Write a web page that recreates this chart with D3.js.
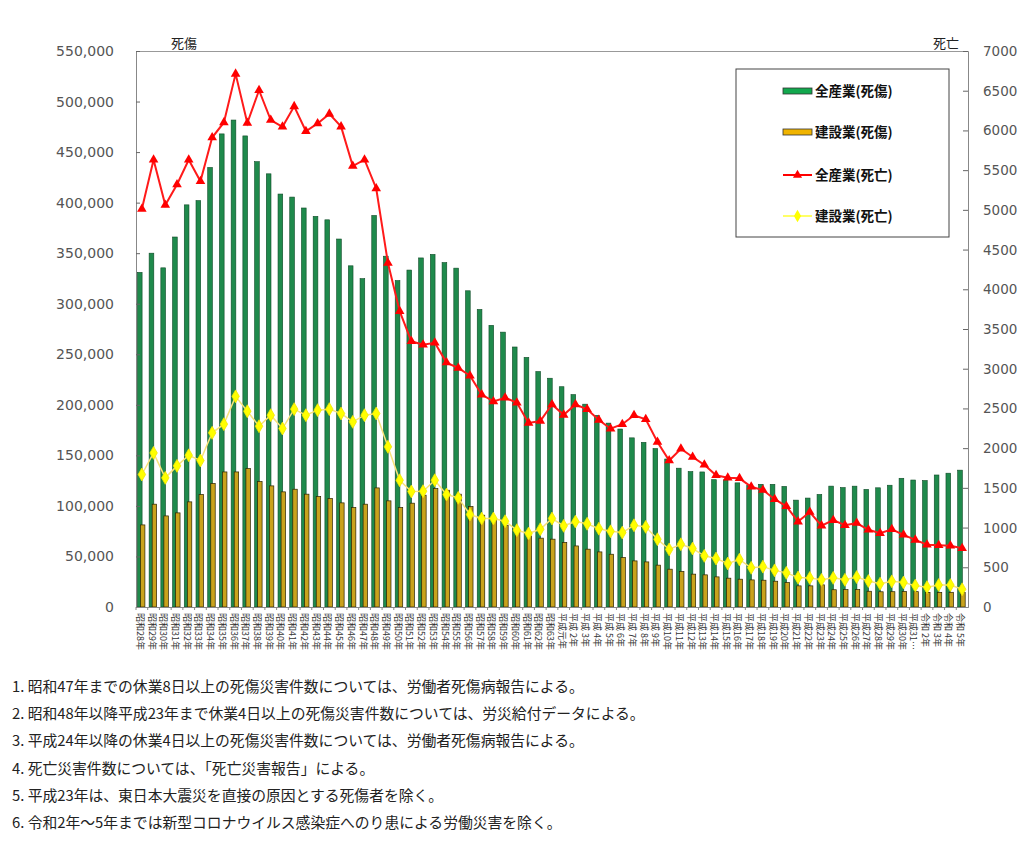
<!DOCTYPE html>
<html lang="ja">
<head>
<meta charset="utf-8">
<style>
  body { margin: 0; background: #fff; }
  #chart text { font-family: "Noto Sans CJK JP", "Noto Sans", sans-serif; }
  #chart .num { font-family: "DejaVu Sans", sans-serif; }
</style>
</head>
<body>
<div id="chart"></div>
<script src="https://cdn.jsdelivr.net/npm/d3@7"></script>
<script>

// x categories (昭和28年 .. 令和5年)
var years = [
  "昭和28年","昭和29年","昭和30年","昭和31年","昭和32年","昭和33年","昭和34年","昭和35年",
  "昭和36年","昭和37年","昭和38年","昭和39年","昭和40年","昭和41年","昭和42年","昭和43年",
  "昭和44年","昭和45年","昭和46年","昭和47年","昭和48年","昭和49年","昭和50年","昭和51年",
  "昭和52年","昭和53年","昭和54年","昭和55年","昭和56年","昭和57年","昭和58年","昭和59年",
  "昭和60年","昭和61年","昭和62年","昭和63年","平成元年","平成 2年","平成 3年","平成 4年",
  "平成 5年","平成 6年","平成 7年","平成 8年","平成 9年","平成10年","平成11年","平成12年",
  "平成13年","平成14年","平成15年","平成16年","平成17年","平成18年","平成19年","平成20年",
  "平成21年","平成22年","平成23年","平成24年","平成25年","平成26年","平成27年","平成28年",
  "平成29年","平成30年","平成31…","令和 2年","令和 3年","令和 4年","令和 5年"
];

// 全産業(死傷)
var allInjury = [
  331000,350000,335500,366000,397800,402000,434800,468000,
  481700,466000,440500,428500,408500,405500,394700,386400,
  383000,364000,337500,324800,387300,347000,322900,333300,
  345300,348800,340700,335200,312800,294300,278600,271900,
  257200,246900,232900,226300,217900,210108,200633,189589,
  181900,176047,167316,162862,156726,146400,137316,133948,
  133598,125918,125750,122804,120354,121378,121356,119291,
  105718,107759,111349,119576,118157,119535,116311,117910,
  120460,127329,125611,125115,130586,132355,135371
];

// 建設業(死傷)
var conInjury = [
  81200,101700,90100,93100,104000,111300,122200,133600,
  133600,137000,124100,119800,113900,116500,111600,109300,
  107300,103000,98400,101700,117800,105000,98400,102700,
  110600,117200,115500,111600,99400,90800,87500,80900,
  74300,70300,68100,67100,63800,60400,57200,54500,
  52200,49000,45600,44600,41400,37400,35100,32500,
  31800,29800,28500,27500,26800,26500,25500,24200,
  20900,20900,21900,17073,17189,17184,15584,15058,
  15129,15374,15183,14500,14500,14539,14414
];

// 全産業(死亡)
var allDeath = [
  5010,5630,5060,5320,5630,5360,5910,6100,
  6712,6093,6506,6131,6046,6303,5990,6088,
  6208,6048,5552,5631,5269,4330,3725,3345,
  3302,3326,3077,3009,2912,2674,2588,2635,
  2572,2318,2342,2549,2419,2550,2489,2354,
  2245,2301,2414,2363,2078,1844,1992,1889,
  1790,1658,1628,1620,1514,1472,1357,1268,
  1075,1195,1024,1093,1030,1057,972,928,
  978,909,845,784,778,770,740
];

// 建設業(死亡)
var conDeath = [
  1668,1940,1626,1777,1910,1844,2193,2302,
  2652,2465,2276,2415,2247,2491,2415,2478,
  2491,2436,2331,2415,2436,2017,1596,1455,
  1458,1596,1416,1374,1164,1114,1114,1080,
  967,925,979,1114,1022,1075,1048,986,
  953,937,1029,1009,853,725,790,736,
  644,610,548,597,494,508,461,430,
  371,365,342,367,342,377,327,294,
  323,309,269,250,277,276,223
];

var leftTicks = d3.range(0, 550001, 50000);
var rightTicks = d3.range(0, 7001, 500);

var legendItems = [
  {name: "全産業(死傷)", type: "bar", color: "#12a84e"},
  {name: "建設業(死傷)", type: "bar", color: "#f0b400"},
  {name: "全産業(死亡)", type: "line", color: "#ff0000"},
  {name: "建設業(死亡)", type: "line", color: "#ffff00"}
];

var notes = [
  "1. 昭和47年までの休業8日以上の死傷災害件数については、労働者死傷病報告による。",
  "2. 昭和48年以降平成23年まで休業4日以上の死傷災害件数については、労災給付データによる。",
  "3. 平成24年以降の休業4日以上の死傷災害件数については、労働者死傷病報告による。",
  "4. 死亡災害件数については、「死亡災害報告」による。",
  "5. 平成23年は、東日本大震災を直接の原因とする死傷者を除く。",
  "6. 令和2年～5年までは新型コロナウイルス感染症へのり患による労働災害を除く。"
];

var W = 1024, H = 848;
var plot = {left: 136, right: 968, top: 51, bottom: 607};

var svg = d3.select("#chart").append("svg")
    .attr("width", W)
    .attr("height", H);

var x = d3.scaleBand()
    .domain(years)
    .range([plot.left, plot.right]);
var bw = x.bandwidth();

var yL = d3.scaleLinear().domain([0, 550000]).range([plot.bottom, plot.top]);
var yR = d3.scaleLinear().domain([0, 7000]).range([plot.bottom, plot.top]);

// frame top line
svg.append("line")
    .attr("x1", plot.left).attr("x2", plot.right)
    .attr("y1", plot.top + 0.5).attr("y2", plot.top + 0.5)
    .attr("stroke", "#999");

// green bars
svg.append("g").selectAll("rect")
    .data(allInjury)
    .enter().append("rect")
    .attr("x", function(d, i){ return x(years[i]) + bw * 0.12; })
    .attr("width", bw * 0.4)
    .attr("y", function(d){ return yL(d); })
    .attr("height", function(d){ return plot.bottom - yL(d); })
    .attr("fill", "#1f8a4c")
    .attr("stroke", "#0e4a26")
    .attr("stroke-width", 0.6);

// gold bars
svg.append("g").selectAll("rect")
    .data(conInjury)
    .enter().append("rect")
    .attr("x", function(d, i){ return x(years[i]) + bw * 0.38; })
    .attr("width", bw * 0.38)
    .attr("y", function(d){ return yL(d); })
    .attr("height", function(d){ return plot.bottom - yL(d); })
    .attr("fill", "#c9a21c")
    .attr("stroke", "#2b2200")
    .attr("stroke-width", 0.7);

// lines
function cx(i){ return x(years[i]) + bw / 2; }

var lineRed = d3.line().x(function(d, i){ return cx(i); }).y(function(d){ return yR(d); });

svg.append("path")
    .datum(conDeath)
    .attr("d", lineRed)
    .attr("fill", "none")
    .attr("stroke", "#f7e27a")
    .attr("stroke-width", 1.5);

svg.append("g").selectAll("path")
    .data(conDeath)
    .enter().append("path")
    .attr("d", d3.symbol().type(d3.symbolDiamond).size(48))
    .attr("transform", function(d, i){ return "translate(" + cx(i) + "," + yR(d) + ")"; })
    .attr("fill", "#ffff00")
    .attr("stroke", "#f2e600")
    .attr("stroke-width", 0.8);

svg.append("path")
    .datum(allDeath)
    .attr("d", lineRed)
    .attr("fill", "none")
    .attr("stroke", "#ff1a1a")
    .attr("stroke-width", 2);

svg.append("g").selectAll("path")
    .data(allDeath)
    .enter().append("path")
    .attr("d", d3.symbol().type(d3.symbolTriangle).size(40))
    .attr("transform", function(d, i){ return "translate(" + cx(i) + "," + yR(d) + ")"; })
    .attr("fill", "#ff0000");

// left axis
var axL = svg.append("g")
    .attr("transform", "translate(" + plot.left + ",0)")
    .call(d3.axisRight(yL).tickValues(leftTicks).tickSize(4).tickFormat(""));
axL.select(".domain").attr("stroke", "#888");
axL.selectAll(".tick line").attr("stroke", "#666");
svg.append("g").selectAll("text")
    .data(leftTicks)
    .enter().append("text")
    .attr("class", "num")
    .attr("x", 114)
    .attr("y", function(d){ return yL(d) + 5; })
    .attr("text-anchor", "end")
    .attr("font-size", "14px")
    .attr("fill", "#555")
    .text(d3.format(","));

// right axis
var axR = svg.append("g")
    .attr("transform", "translate(" + plot.right + ",0)")
    .call(d3.axisLeft(yR).tickValues(rightTicks).tickSize(5).tickFormat(""));
axR.select(".domain").attr("stroke", "#888");
axR.selectAll(".tick line").attr("stroke", "#666");
svg.append("g").selectAll("text")
    .data(rightTicks)
    .enter().append("text")
    .attr("class", "num")
    .attr("x", 983)
    .attr("y", function(d){ return yR(d) + 5; })
    .attr("font-size", "13.5px")
    .attr("fill", "#555")
    .text(function(d){ return d; });

// bottom axis
var axB = svg.append("g")
    .attr("transform", "translate(0," + plot.bottom + ")")
    .call(d3.axisBottom(x).tickSize(0).tickFormat(""));
axB.select(".domain").attr("stroke", "#888");
axB.selectAll(".tick").remove();
svg.append("g").selectAll("line")
    .data(years)
    .enter().append("line")
    .attr("x1", function(d){ return x(d); })
    .attr("x2", function(d){ return x(d); })
    .attr("y1", plot.bottom)
    .attr("y2", plot.bottom + 3)
    .attr("stroke", "#888");

svg.append("g").selectAll("text")
    .data(years)
    .enter().append("text")
    .attr("transform", function(d){ return "translate(" + (x(d) + bw / 2 - 5) + "," + (plot.bottom + 6) + ") rotate(90)"; })
    .attr("font-size", "9px")
    .attr("fill", "#333")
    .text(function(d){ return d; });

// axis titles
svg.append("text")
    .attr("x", 184).attr("y", 48)
    .attr("text-anchor", "middle")
    .attr("font-size", "13px")
    .attr("fill", "#222")
    .text("死傷");
svg.append("text")
    .attr("x", 946).attr("y", 48)
    .attr("text-anchor", "middle")
    .attr("font-size", "13px")
    .attr("fill", "#222")
    .text("死亡");

// legend
var lg = svg.append("g");
lg.append("rect")
    .attr("x", 736).attr("y", 69)
    .attr("width", 213).attr("height", 168)
    .attr("fill", "#fff")
    .attr("stroke", "#444");
var ly = [91, 132, 175, 216];
legendItems.forEach(function(it, k){
  var g = lg.append("g").attr("transform", "translate(0," + ly[k] + ")");
  if (it.type == "bar") {
    g.append("rect").attr("x", 783).attr("y", -3).attr("width", 29).attr("height", 6)
      .attr("fill", it.color).attr("stroke", "#333").attr("stroke-width", 0.8);
  } else {
    g.append("line").attr("x1", 783).attr("x2", 812).attr("y1", 0).attr("y2", 0)
      .attr("stroke", it.color).attr("stroke-width", k == 2 ? 2 : 1.2);
    g.append("path")
      .attr("d", d3.symbol().type(k == 2 ? d3.symbolTriangle : d3.symbolDiamond).size(k == 2 ? 36 : 44))
      .attr("transform", "translate(797.5,0)")
      .attr("fill", it.color);
  }
  g.append("text")
    .attr("x", 815).attr("y", 5)
    .attr("font-size", "13.5px")
    .attr("font-weight", "bold")
    .attr("fill", "#111")
    .text(it.name);
});

// notes
svg.append("g").selectAll("text")
    .data(notes)
    .enter().append("text")
    .attr("x", 12)
    .attr("y", function(d, i){ return 692 + i * 27.2; })
    .attr("font-size", "14.8px")
    .attr("fill", "#222")
    .text(function(d){ return d; });

</script>
</body>
</html>
